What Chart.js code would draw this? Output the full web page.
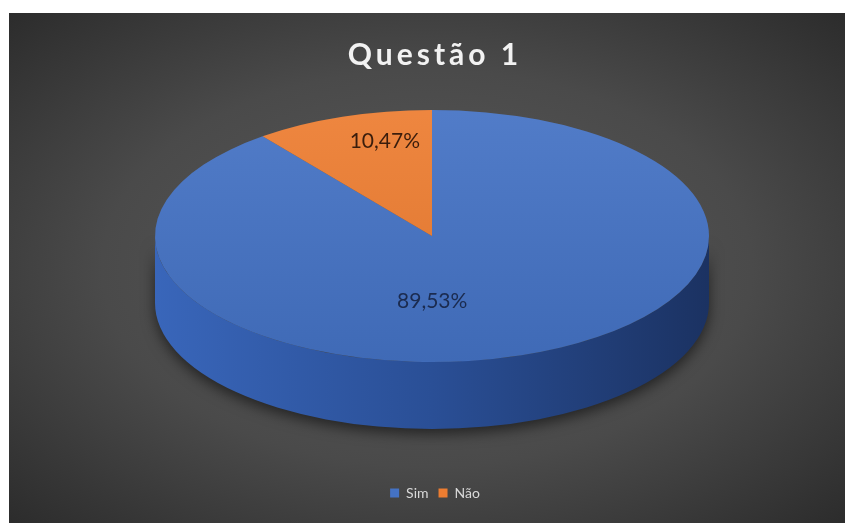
<!DOCTYPE html>
<html>
<head>
<meta charset="utf-8">
<script src="https://cdn.jsdelivr.net/npm/chart.js@4.4.1/dist/chart.umd.min.js"></script>
<style>
  body { margin: 0; background: #fff; width: 845px; height: 523px; overflow: hidden; position: relative; }
  #panel {
    position: absolute; left: 9px; top: 13px; width: 836px; height: 510px;
    background: radial-gradient(ellipse farthest-corner at 50% 50%, #5a5a5a 0%, #4a4a4a 55%, #2c2c2c 100%);
  }
  canvas { display: block; }
</style>
</head>
<body>
<div id="panel"><canvas id="pie" width="836" height="510"></canvas></div>
<script>
const categories = ['Sim', 'Não'];
const shares = [89.53, 10.47];
const topColors = ['#4472c4', '#ed7d31'];
const sideColors = [
  ['#3966ba', '#2a4f96', '#1b3262'],
  ['#c8621f', '#a84f16', '#7a380c']
];
const labelColors = ['#1b2b4f', '#3a1d0c'];

// the flat pie is drawn with a circle of RADIUS and squashed into an ellipse
const RADIUS = 277;
const SQUASH = 126 / 277;
const DEPTH = 67;
const CENTER = { x: 423, y: 223 };
// where the value text sits: fraction of the radius plus a small nudge
const labelSpots = [
  { f: 0.55, dx: -49, dy: 0 },
  { f: 0.65, dx: 11, dy: -17 }
];

const fmt = v => v.toFixed(2).replace('.', ',') + '%';

const pie3d = {
  id: 'pie3d',
  beforeDatasetsDraw(chart) {
    const ctx = chart.ctx;
    const arcs = chart.getDatasetMeta(0).data;
    const { x, y } = arcs[0];
    ctx.save();
    ctx.translate(CENTER.x, CENTER.y);
    ctx.scale(1, SQUASH);
    ctx.translate(-x, -y);

    // walls: only the front half (0..PI) can be seen
    const d = DEPTH / SQUASH;
    arcs.forEach((arc, i) => {
      const s = Math.max(arc.startAngle, 0);
      const e = Math.min(arc.endAngle, Math.PI);
      if (e <= s) return;
      const g = ctx.createLinearGradient(x - RADIUS, 0, x + RADIUS, 0);
      g.addColorStop(0, sideColors[i][0]);
      g.addColorStop(0.5, sideColors[i][1]);
      g.addColorStop(1, sideColors[i][2]);
      ctx.save();
      ctx.shadowColor = 'rgba(0,0,0,0.55)';
      ctx.shadowBlur = 14;
      ctx.shadowOffsetY = 5;
      ctx.beginPath();
      ctx.arc(x, y, RADIUS, s, e);
      ctx.arc(x, y + d, RADIUS, e, s, true);
      ctx.closePath();
      ctx.fillStyle = g;
      ctx.fill();
      ctx.restore();
    });
  },
  afterDatasetsDraw(chart) {
    const ctx = chart.ctx;
    const arcs = chart.getDatasetMeta(0).data;
    const { x, y } = arcs[0];
    // soft light on the top face
    const g = ctx.createLinearGradient(0, y - RADIUS, 0, y + RADIUS);
    g.addColorStop(0, 'rgba(255,255,255,0.07)');
    g.addColorStop(1, 'rgba(0,0,0,0.07)');
    ctx.beginPath();
    ctx.arc(x, y, RADIUS, 0, Math.PI * 2);
    ctx.fillStyle = g;
    ctx.fill();
    ctx.restore();

    ctx.save();
    ctx.font = '21px Lato';
    ctx.textAlign = 'center';
    ctx.textBaseline = 'middle';
    arcs.forEach((arc, i) => {
      const mid = (arc.startAngle + arc.endAngle) / 2;
      const spot = labelSpots[i];
      const px = CENTER.x + Math.cos(mid) * RADIUS * spot.f + spot.dx;
      const py = CENTER.y + Math.sin(mid) * RADIUS * SQUASH * spot.f + spot.dy;
      ctx.fillStyle = labelColors[i];
      ctx.fillText(fmt(shares[i]), px, py);
    });
    ctx.restore();
  }
};

const chart = new Chart(document.getElementById('pie'), {
  type: 'pie',
  data: {
    labels: categories,
    datasets: [{
      data: shares,
      backgroundColor: topColors,
      borderWidth: 0,
      radius: RADIUS,
      clip: false
    }]
  },
  options: {
    responsive: false,
    animation: false,
    events: [],
    layout: { padding: { left: 16, bottom: 13 } },
    plugins: {
      title: {
        display: true,
        text: 'Questão 1',
        color: '#f2f2f2',
        font: { family: 'Lato', size: 30, weight: 'bold' },
        padding: { top: 24, bottom: 10 }
      },
      legend: {
        position: 'bottom',
        labels: {
          color: '#d9d9d9',
          font: { family: 'Lato', size: 14 },
          boxWidth: 9,
          boxHeight: 9,
          padding: 10
        }
      },
      tooltip: { enabled: false }
    }
  },
  plugins: [pie3d]
});

// wider tracking for the title only
const drawTitle = chart.titleBlock.draw.bind(chart.titleBlock);
chart.titleBlock.draw = function (area) {
  chart.ctx.letterSpacing = '4px';
  drawTitle(area);
  chart.ctx.letterSpacing = '0px';
};
chart.draw();
</script>
</body>
</html>
